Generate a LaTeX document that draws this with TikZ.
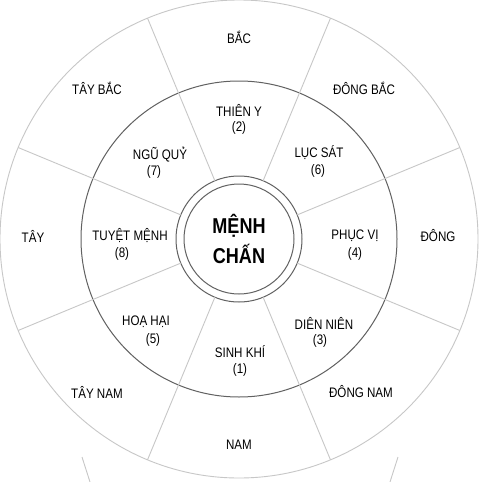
\documentclass[tikz,border=0pt]{standalone}
\usepackage{fontspec}
\setmainfont{Liberation Sans}
\newfontfamily\narrowfont[FakeStretch=0.84]{Liberation Sans}
\usetikzlibrary{calc}
\tikzset{
  ring/.style={draw=black!62, line width=1pt},
  rim/.style={draw=black!22, line width=0.9pt},
  spoke/.style={draw=black!22, line width=0.9pt},
  dirtext/.style={font=\narrowfont\fontsize{13.8}{15}\selectfont, inner sep=0pt},
  coretext/.style={font=\narrowfont\fontsize{21.5}{30}\selectfont\bfseries, inner sep=0pt, align=center}
}
\begin{document}
\begin{tikzpicture}[x=1pt,y=-1pt]
	%%%%% FRAME %%%%%
	\useasboundingbox[fill=white] (0,0) rectangle (480,482);
	\coordinate (c) at (239,239);

	%%%%% RINGS %%%%%
	\draw[rim] (c) circle (239pt);
	\draw[ring] (c) circle (158pt);
	\draw[ring] (c) circle (63pt);
	\draw[ring] (c) circle (55pt);

	% sector borders
	\foreach \a in {22.5,67.5,...,337.5}
		\draw[spoke] ($(c)+(\a:63)$) -- ($(c)+(\a:239)$);

	% cut-off lines at the bottom
	\draw[spoke] (82,457) -- (90,482);
	\draw[spoke] (398,457) -- (390,482);

	%%%%% CENTRE %%%%%
	\node[coretext] (core) at (239,239) {MỆNH\\CHẤN};

	%%%%% OUTER RING %%%%%
	\node[dirtext] (bac) at (239,37) {BẮC};
	\node[dirtext] (dongbac) at (364,88) {ĐÔNG BẮC};
	\node[dirtext] (dong) at (438,236) {ĐÔNG};
	\node[dirtext] (dongnam) at (361,392) {ĐÔNG NAM};
	\node[dirtext] (nam) at (239,445) {NAM};
	\node[dirtext] (taynam) at (97,392) {TÂY NAM};
	\node[dirtext] (tay) at (33,236) {TÂY};
	\node[dirtext] (taybac) at (97,88) {TÂY BẮC};

	%%%%% MIDDLE RING %%%%%
	\node[dirtext] (thieny) at (239,110) {THIÊN Y};
	\node[dirtext] (n2) at (239,128) {(2)};
	\node[dirtext] (lucsat) at (319,153) {LỤC SÁT};
	\node[dirtext] (n6) at (318,171) {(6)};
	\node[dirtext] (phucvi) at (355,236) {PHỤC VỊ};
	\node[dirtext] (n4) at (355,254) {(4)};
	\node[dirtext] (dienien) at (324,323) {DIÊN NIÊN};
	\node[dirtext] (n3) at (320,341) {(3)};
	\node[dirtext] (sinhkhi) at (240,352) {SINH KHÍ};
	\node[dirtext] (n1) at (240,370) {(1)};
	\node[dirtext] (hoahai) at (146,322) {HOẠ HẠI};
	\node[dirtext] (n5) at (153,340) {(5)};
	\node[dirtext] (tuyetmenh) at (130,236) {TUYỆT MỆNH};
	\node[dirtext] (n8) at (122,254) {(8)};
	\node[dirtext] (nguquy) at (160,155) {NGŨ QUỶ};
	\node[dirtext] (n7) at (154,172) {(7)};
\end{tikzpicture}
\end{document}
